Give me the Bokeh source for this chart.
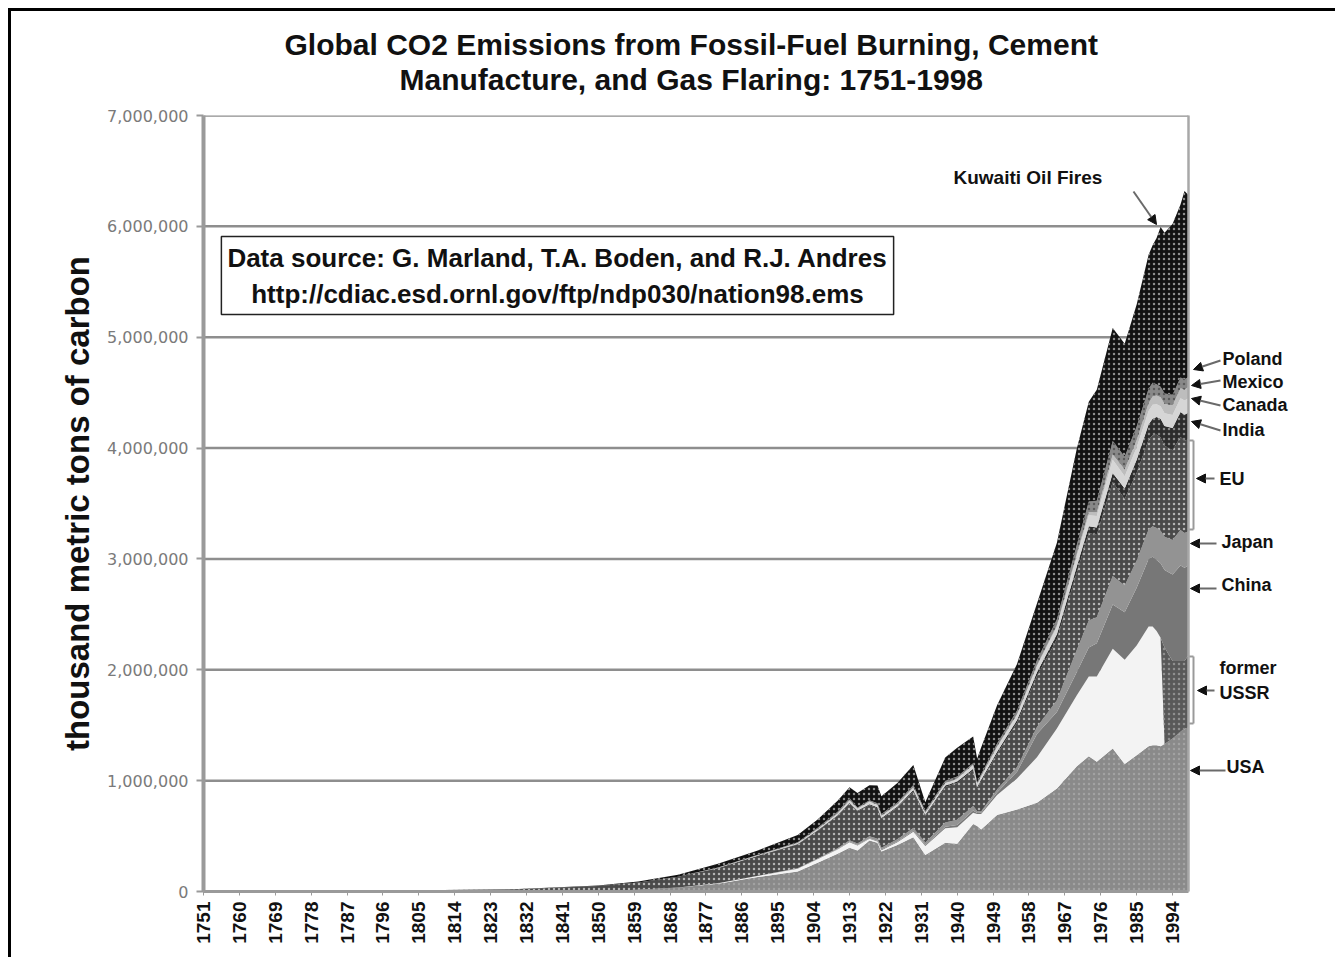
import math
from bokeh.plotting import figure
from bokeh.models import (ColumnDataSource, FixedTicker, NumeralTickFormatter, Range1d,
                          Label, Arrow, NormalHead, Title)
from bokeh.layouts import column
from bokeh.embed import file_html
from bokeh.resources import INLINE

# ---------------- data (thousand metric tons of carbon) ----------------
years = [1751, 1800, 1830, 1850, 1860, 1870, 1880, 1890, 1900, 1905, 1910, 1913, 1915, 1918,
         1920, 1921, 1925, 1929, 1932, 1937, 1940, 1944, 1945, 1946, 1950, 1955, 1960, 1965,
         1970, 1973, 1975, 1979, 1982, 1985, 1988, 1989, 1990, 1991, 1992, 1994, 1996, 1997, 1998]

usa = [0, 60, 600, 5000, 15000, 35000, 70000, 130000, 180000, 260000, 340000, 395000, 370000, 460000,
       440000, 360000, 420000, 490000, 330000, 440000, 430000, 610000, 590000, 560000, 690000, 740000,
       800000, 930000, 1130000, 1220000, 1170000, 1290000, 1150000, 1230000, 1310000, 1320000, 1320000,
       1310000, 1330000, 1380000, 1440000, 1470000, 1480000]

ussr = [0, 0, 0, 300, 1000, 2000, 5000, 10000, 25000, 30000, 38000, 50000, 45000, 15000,
        12000, 13000, 25000, 50000, 80000, 130000, 150000, 100000, 110000, 140000, 180000, 280000,
        410000, 540000, 640000, 720000, 770000, 900000, 940000, 990000, 1080000, 1070000, 1030000,
        980000, 0, 0, 0, 0, 0]

former_ussr = [0, 0, 0, 0, 0, 0, 0, 0, 0, 0, 0, 0, 0, 0,
               0, 0, 0, 0, 0, 0, 0, 0, 0, 0, 0, 0,
               0, 0, 0, 0, 0, 0, 0, 0, 0, 0, 0,
               0, 870000, 700000, 640000, 610000, 650000]

china = [0, 0, 0, 0, 0, 0, 0, 0, 1000, 2000, 4000, 5000, 5000, 6000,
         6000, 6000, 7000, 9000, 10000, 15000, 20000, 20000, 8000, 10000, 22000, 60000,
         210000, 150000, 210000, 260000, 300000, 400000, 430000, 520000, 610000, 630000, 640000,
         670000, 700000, 780000, 860000, 840000, 810000]

japan = [0, 0, 0, 0, 0, 0, 500, 1500, 4000, 6000, 9000, 13000, 13000, 18000,
         18000, 16000, 20000, 24000, 22000, 38000, 48000, 42000, 18000, 12000, 28000, 42000,
         65000, 105000, 200000, 245000, 235000, 255000, 240000, 245000, 265000, 275000, 290000,
         295000, 300000, 310000, 320000, 315000, 310000]

eu = [2500, 7500, 19000, 45000, 65000, 95000, 135000, 180000, 215000, 250000, 290000, 330000, 290000, 280000,
      275000, 260000, 285000, 330000, 240000, 320000, 330000, 320000, 200000, 270000, 320000, 400000,
      460000, 550000, 700000, 790000, 740000, 850000, 780000, 790000, 810000, 820000, 840000,
      840000, 820000, 810000, 840000, 830000, 830000]

india = [0, 0, 0, 0, 0, 0, 1000, 2000, 4000, 5000, 7000, 8000, 8000, 9000,
         9000, 9000, 10000, 12000, 11000, 13000, 15000, 16000, 16000, 15000, 20000, 25000,
         33000, 45000, 55000, 60000, 68000, 80000, 95000, 120000, 140000, 150000, 160000,
         170000, 180000, 200000, 225000, 235000, 240000]

canada = [0, 0, 0, 0, 0, 1000, 2000, 4000, 7000, 10000, 15000, 20000, 16000, 22000,
          20000, 18000, 18000, 22000, 15000, 20000, 22000, 30000, 28000, 28000, 40000, 42000,
          52000, 65000, 90000, 100000, 105000, 120000, 110000, 110000, 120000, 125000, 115000,
          112000, 115000, 118000, 125000, 130000, 130000]

mexico = [0, 0, 0, 0, 0, 0, 0, 0, 500, 700, 1000, 1500, 1500, 2000,
          2000, 2000, 2500, 3000, 3000, 3500, 4000, 5000, 5000, 5500, 7000, 9000,
          12000, 16000, 22000, 28000, 32000, 48000, 62000, 65000, 70000, 75000, 80000,
          82000, 83000, 88000, 90000, 95000, 100000]

poland = [0, 0, 0, 0, 0, 1000, 2000, 4000, 8000, 11000, 15000, 18000, 10000, 12000,
          14000, 15000, 16000, 21000, 15000, 19000, 18000, 15000, 12000, 18000, 27000, 35000,
          45000, 55000, 80000, 95000, 105000, 120000, 115000, 125000, 130000, 125000, 100000,
          95000, 95000, 95000, 97000, 95000, 90000]

rest_of_world = [500, 440, 2400, 4700, 9000, 16000, 34500, 38500, 65000, 75000, 100000, 100000, 130000, 135000,
                 160000, 160000, 175000, 180000, 80000, 210000, 260000, 240000, 210000, 240000, 345000, 420000,
                 510000, 690000, 870000, 900000, 1000000, 1020000, 1020000, 1100000, 1210000, 1240000, 1320000,
                 1440000, 1450000, 1540000, 1560000, 1700000, 1640000]

y_ticks = [0, 1000000, 2000000, 3000000, 4000000, 5000000, 6000000, 7000000]
x_ticks = list(range(1751, 1995, 9))

title_line1 = "Global CO2 Emissions from Fossil-Fuel Burning, Cement"
title_line2 = "Manufacture, and Gas Flaring: 1751-1998"
source_text = "Data source: G. Marland, T.A. Boden, and R.J. Andres\nhttp://cdiac.esd.ornl.gov/ftp/ndp030/nation98.ems"

# ---------------- geometry (page pixels) ----------------
X0, X1 = years[0], years[-1]
Y1 = y_ticks[-1]
PW = 985            # px covered by 1751..1998
FL, FT, FB = 203, 115, 891   # plot-area left / top / bottom on the page
FR_EXT = 1320       # frame extends right so the annotations fit inside it


def dx(px):
    return X0 + (px - FL) * (X1 - X0) / PW


def dy(py):
    return (FB - py) * Y1 / (FB - FT)


FW = FR_EXT - FL
FH = FB - FT

p = figure(frame_width=FW, frame_height=FH, x_range=Range1d(X0, dx(FR_EXT)), y_range=Range1d(0, Y1),
           min_border_left=192, min_border_right=1324 - 192 - FW, min_border_top=104, min_border_bottom=66,
           output_backend="svg", toolbar_location=None,
           background_fill_color="white", border_fill_color="white")
p.outline_line_color = None

# horizontal gridlines limited to the plot area (drawn beneath the areas)
p.ygrid.visible = False
p.segment(x0=[X0] * len(y_ticks), x1=[X1] * len(y_ticks), y0=y_ticks, y1=y_ticks,
          line_color="#8e8e8e", line_width=2.5, level="underlay")

src = ColumnDataSource(dict(year=years, usa=usa, ussr=ussr, fsu=former_ussr, china=china, japan=japan,
                            eu=eu, india=india, canada=canada, mexico=mexico, poland=poland,
                            row=rest_of_world))
keys = ["usa", "ussr", "fsu", "china", "japan", "eu", "india", "canada", "mexico", "poland", "row"]
colors = ["#8a8a8a", "#f3f3f3", "#595959", "#777777", "#939393", "#4a4a4a",
          "#2c2c2c", "#d6d6d6", "#bdbdbd", "#888888", "#121212"]
hatches = ["dot", " ", "dot", " ", " ", "dot", "dot", " ", " ", "dot", "dot"]
hcolors = ["#a2a2a2", "#f3f3f3", "#909090", "#777777", "#939393", "#b5b5b5",
           "#8a8a8a", "#d6d6d6", "#bdbdbd", "#5a5a5a", "#8f8f8f"]
p.varea_stack(stackers=keys, x="year", source=src, color=colors,
              hatch_pattern=hatches, hatch_color=hcolors, hatch_scale=5, hatch_weight=1.2)

# titles: first item of `above` sits next to the plot -> white spacer, then the two lines
p.title.text = ""
p.add_layout(Title(text=".", text_color="white", text_font_size="2px", standoff=17), "above")
title_kw = dict(align="left", text_font="Liberation Sans", text_font_size="30px",
                text_font_style="bold", text_color="#111111", standoff=0)
p.add_layout(Title(text=title_line2, offset=196, **title_kw), "above")
p.add_layout(Title(text=title_line1, offset=81, **title_kw), "above")

# right border of the plot area
p.xgrid.ticker = FixedTicker(ticks=[X1])
p.xgrid.bounds = (0, Y1)
p.xgrid.grid_line_color = "#a8a8a8"
p.xgrid.grid_line_width = 2.5
p.xgrid.level = "overlay"

# y axis
p.yaxis.ticker = FixedTicker(ticks=y_ticks)
p.yaxis.formatter = NumeralTickFormatter(format="0,0")
p.yaxis.axis_label = "thousand metric tons of carbon"
p.yaxis.axis_label_text_font = "Liberation Sans"
p.yaxis.axis_label_text_font_size = "33px"
p.yaxis.axis_label_text_font_style = "bold"
p.yaxis.axis_label_text_color = "#111111"
p.yaxis.axis_label_standoff = 8
p.yaxis.major_label_text_font = "DejaVu Sans"
p.yaxis.major_label_text_font_size = "16px"
p.yaxis.major_label_text_color = "#7a7a7a"
p.yaxis.major_label_standoff = 8
p.yaxis.axis_line_color = "#9a9a9a"
p.yaxis.axis_line_width = 4
p.yaxis.major_tick_line_color = "#9a9a9a"
p.yaxis.major_tick_line_width = 2
p.yaxis.major_tick_out = 7
p.yaxis.major_tick_in = 0
p.yaxis.minor_tick_line_color = None

# x axis
p.xaxis.ticker = FixedTicker(ticks=x_ticks)
p.xaxis.bounds = (X0, X1)
p.xaxis.major_label_orientation = math.pi / 2
p.xaxis.major_label_text_font = "Liberation Sans"
p.xaxis.major_label_text_font_size = "19px"
p.xaxis.major_label_text_font_style = "bold"
p.xaxis.major_label_text_color = "#111111"
p.xaxis.major_label_standoff = 6
p.xaxis.axis_line_color = "#9a9a9a"
p.xaxis.axis_line_width = 3
p.xaxis.major_tick_line_color = "#9a9a9a"
p.xaxis.major_tick_out = 4
p.xaxis.major_tick_in = 0
p.xaxis.minor_tick_line_color = None

# data source box (shadow + box)
box_kw = dict(x=dx(557), y=dy(275), text=source_text, text_align="center", text_baseline="middle",
              text_font="Liberation Sans", text_font_size="26px", text_font_style="bold",
              text_line_height=1.2, padding=6)
p.add_layout(Label(text_alpha=0, x_offset=3, y_offset=-3, background_fill_color="#b0b0b0",
                   border_line_color=None, **box_kw))
p.add_layout(Label(text_color="#111111", background_fill_color="white",
                   border_line_color="#222222", border_line_width=1.5, **box_kw))

# right-hand labels: (text, left px, center py, size)
labels = [("Kuwaiti Oil Fires", 953, 177, "19px"), ("Poland", 1222, 358, "18px"), ("Mexico", 1222, 381, "18px"),
          ("Canada", 1222, 404, "18px"), ("India", 1222, 429, "18px"), ("EU", 1219, 478, "18px"),
          ("Japan", 1221, 541, "18px"), ("China", 1221, 584, "18px"), ("former", 1219, 667, "18px"),
          ("USSR", 1219, 692, "18px"), ("USA", 1226, 766, "18px")]
for txt, lx, ly, fs in labels:
    p.add_layout(Label(x=dx(lx), y=dy(ly), text=txt, text_align="left", text_baseline="middle",
                       text_font="Liberation Sans", text_font_size=fs, text_font_style="bold",
                       text_color="#111111"))

# arrows: start px, end px
arrows = [((1133, 191), (1156, 224)), ((1220, 360), (1193, 369)), ((1220, 380), (1191, 385)),
          ((1220, 405), (1191, 398)), ((1220, 430), (1191, 421)), ((1214, 478), (1196, 478)),
          ((1216, 543), (1190, 543)), ((1216, 588), (1190, 588)), ((1214, 690), (1197, 690)),
          ((1225, 770), (1190, 770))]
for (sx, sy), (ex, ey) in arrows:
    p.add_layout(Arrow(x_start=dx(sx), y_start=dy(sy), x_end=dx(ex), y_end=dy(ey),
                       line_color="#6a6a6a", line_width=2,
                       end=NormalHead(size=9, fill_color="#111111", line_color="#111111")))

# brackets for EU and former USSR
for top, bot in [(440, 529), (656, 723)]:
    for (ax, ay), (bx, by) in [((1188, top), (1193, top)), ((1193, top), (1193, bot)), ((1193, bot), (1188, bot))]:
        p.add_layout(Arrow(x_start=dx(ax), y_start=dy(ay), x_end=dx(bx), y_end=dy(by),
                           line_color="#9a9a9a", line_width=2, end=None))

layout = column(p, styles={"border-top": "3px solid black", "border-left": "3px solid black",
                           "margin-left": "8px", "margin-top": "8px"})

with open("out.html", "w") as f:
    f.write(file_html(layout, INLINE))
